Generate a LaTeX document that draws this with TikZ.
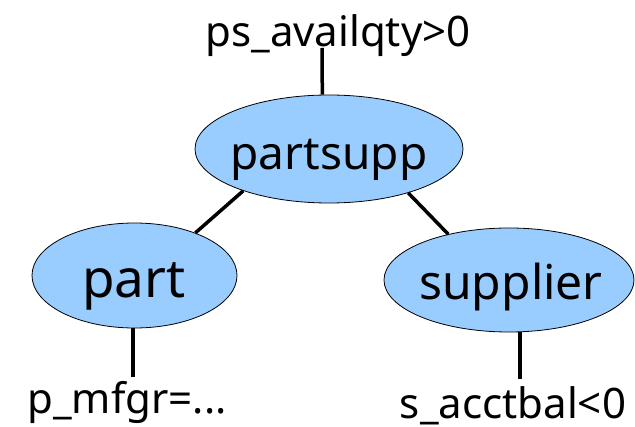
\documentclass[tikz,border=0pt]{standalone}
\usepackage{fontspec}
\setmainfont{Noto Sans}
\usetikzlibrary{positioning,shapes.geometric}

\definecolor{relblue}{RGB}{153,204,255}

\begin{document}
\begin{tikzpicture}[x=1pt,y=-1pt,
    rel/.style={ellipse,draw=black,line width=0.8pt,fill=relblue,inner sep=0pt},
    relname/.style={anchor=base,inner sep=0pt},
    cond/.style={anchor=base,inner sep=0pt,font=\fontsize{42}{42}\selectfont},
    edge/.style={line width=3.5pt}]
    \useasboundingbox (0,0) rectangle (635,427);

    % relations
    \node[rel,minimum width=268pt,minimum height=108pt] (ps) at (329,149) {};
    \node[rel,minimum width=205pt,minimum height=105pt] (part) at (134.5,275.5) {};
    \node[rel,minimum width=250pt,minimum height=104pt] (supp) at (509,280) {};

    \node[relname,font=\fontsize{46}{46}\selectfont] (psname) at (329,170) {partsupp};
    \node[relname,font=\fontsize{53}{53}\selectfont] (partname) at (134,298) {part};
    \node[relname,font=\fontsize{48}{48}\selectfont] (suppname) at (511,300) {supplier};

    % selection predicates
    \node[cond] (qty) at (338,47) {ps\_availqty>0};
    \node[cond] (mfgr) at (127,414) {p\_mfgr=...};
    \node[cond] (bal) at (513,419) {s\_acctbal<0};

    \coordinate (qtyend) at (322,48);
    \coordinate (mfgrend) at (133,377);
    \coordinate (balend) at (520,379);

    \draw[edge] (qtyend) -- (ps.97);
    \draw[edge] (ps.206) -- (part.35);
    \draw[edge] (ps.331) -- (supp.143);
    \draw[edge] (part.south) ++(-1.5,0) -- (mfgrend);
    \draw[edge] (supp.south) ++(11,0) -- (balend);
\end{tikzpicture}
\end{document}
